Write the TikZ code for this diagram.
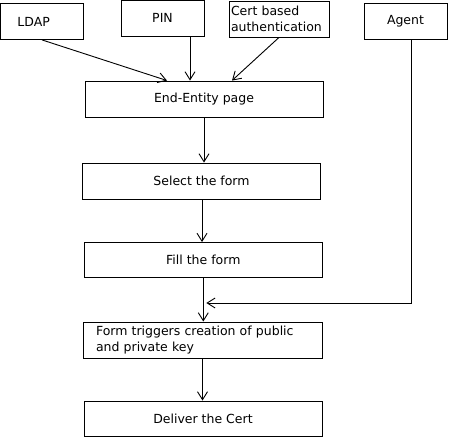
\documentclass[tikz,border=0pt]{standalone}
\usepackage{fontspec}
\setmainfont{DejaVu Sans}
\usetikzlibrary{arrows.meta, positioning}

\begin{document}
\begin{tikzpicture}[
    x=1pt, y=-1pt,
    >={Straight Barb[length=8pt, width=10pt]},
    line width=0.9pt,
    step box/.style={rectangle, draw=black, line width=0.9pt, inner sep=0pt,
                  minimum width=238pt, minimum height=36pt, align=center,
                  font=\fontsize{12.5}{16}\selectfont},
    source/.style={step box, minimum width=83pt}
]
\useasboundingbox (0,0) rectangle (449,438);
\node[source, align=left, text width=49pt, inner xsep=17pt, anchor=north west] (ldap) at (0,3) {LDAP};
\node[source] (pin) at (162.5,18) {PIN};
\node[source, minimum width=100pt, align=left, text width=96pt, inner xsep=2pt] (cert) at (279,19) {Cert based\\authentication};
\node[source] (agent) at (405.5,21) {Agent};
\node[step box] (eepage) at (204,99) {End-Entity page};
\node[step box] (select) at (201.5,181) {Select the form};
\node[step box, minimum height=35pt] (fill) at (203.3,260) {Fill the form};
\node[step box, align=left, text width=213pt, inner xsep=13pt] (trigger) at (202.5,340) {Form triggers creation of public\\and private key};
\node[step box, minimum height=35pt] (deliver) at (203,418.5) {Deliver the Cert};
% inputs to the end-entity page
\draw[->] (ldap.south) -- ([xshift=-37pt]eepage.north);
\draw[->] ([xshift=27.5pt]pin.south) -- ([xshift=27.5pt]pin.south |- eepage.north);
\draw[->] (cert.south) -- ([xshift=28pt]eepage.north);
% main flow
\draw[->] (eepage.south) -- (eepage.south |- select.north);
\draw[->] ([xshift=0.5pt]select.south) -- ([xshift=0.5pt]select.south |- fill.north);
\draw[->] (fill.south) -- (fill.south |- trigger.north);
\draw[->] (trigger.south) -- (trigger.south |- deliver.north);
% agent joins before key creation
\coordinate (join) at ([xshift=3pt]fill.south |- 0,303);
\draw[->] ([xshift=5.5pt]agent.south) |- (join);
\end{tikzpicture}
\end{document}
